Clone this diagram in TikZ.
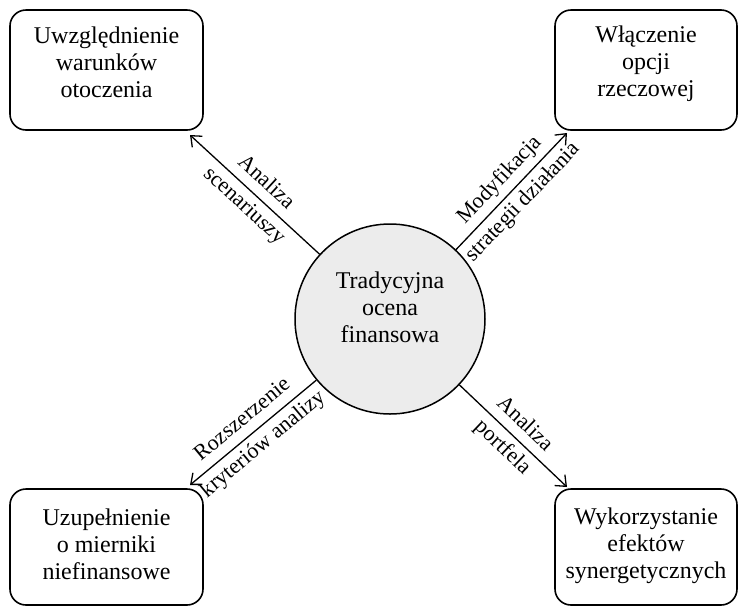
\documentclass[tikz,border=0pt]{standalone}
\usepackage{fontspec}
\setmainfont{Liberation Serif}
\usetikzlibrary{arrows.meta}
\newcommand\liftlines[2]{\raisebox{#1}[\height][\depth]{\begin{tabular}{@{}c@{}}#2\end{tabular}}}
\begin{document}
\begin{tikzpicture}[x=1pt,y=-1pt,
  box/.style={draw, line width=1.6pt, rounded corners=16pt, align=center, inner sep=0pt, font=\fontsize{24}{27}\selectfont},
  hub/.style={circle, draw, line width=1.5pt, fill=gray!15, minimum size=190pt, inner sep=0pt, align=center, font=\fontsize{24}{27}\selectfont},
  link/.style={line width=1.3pt, -{Straight Barb[length=9pt,width=15pt,line width=1.3pt]}},
  lab/.style={midway, sloped, align=center, font=\fontsize{22}{32}\selectfont}]
\useasboundingbox (0,0) rectangle (739,606);
\node[box, minimum width=193pt, minimum height=120pt] (tl) at (106.5,70) {\liftlines{5pt}{Uwzględnienie\\warunków\\otoczenia}};
\node[box, minimum width=182pt, minimum height=120pt] (tr) at (646,70) {\liftlines{6pt}{Włączenie\\opcji\\rzeczowej}};
\node[box, minimum width=193pt, minimum height=116pt] (bl) at (106.5,547) {\liftlines{0pt}{Uzupełnienie\\o mierniki\\niefinansowe}};
\node[box, minimum width=182pt, minimum height=116pt] (br) at (646,547) {\liftlines{1pt}{Wykorzystanie\\efektów\\synergetycznych}};
\node[hub] (c) at (390,319) {\liftlines{9pt}{Tradycyjna\\ocena\\finansowa}};
\coordinate (e1) at (190,135);
\coordinate (e2) at (567,133);
\coordinate (e3) at (190,485);
\coordinate (e4) at (567,487);
\draw[link] (c) -- (e1) node[lab] {Analiza\\scenariuszy};
\draw[link] (c) -- (e2) node[lab] {Modyfikacja\\strategii działania};
\draw[link] (c) -- (e3) node[lab] {Rozszerzenie\\kryteriów analizy};
\draw[link] (c) -- (e4) node[lab] {Analiza\\portfela};
\end{tikzpicture}
\end{document}
